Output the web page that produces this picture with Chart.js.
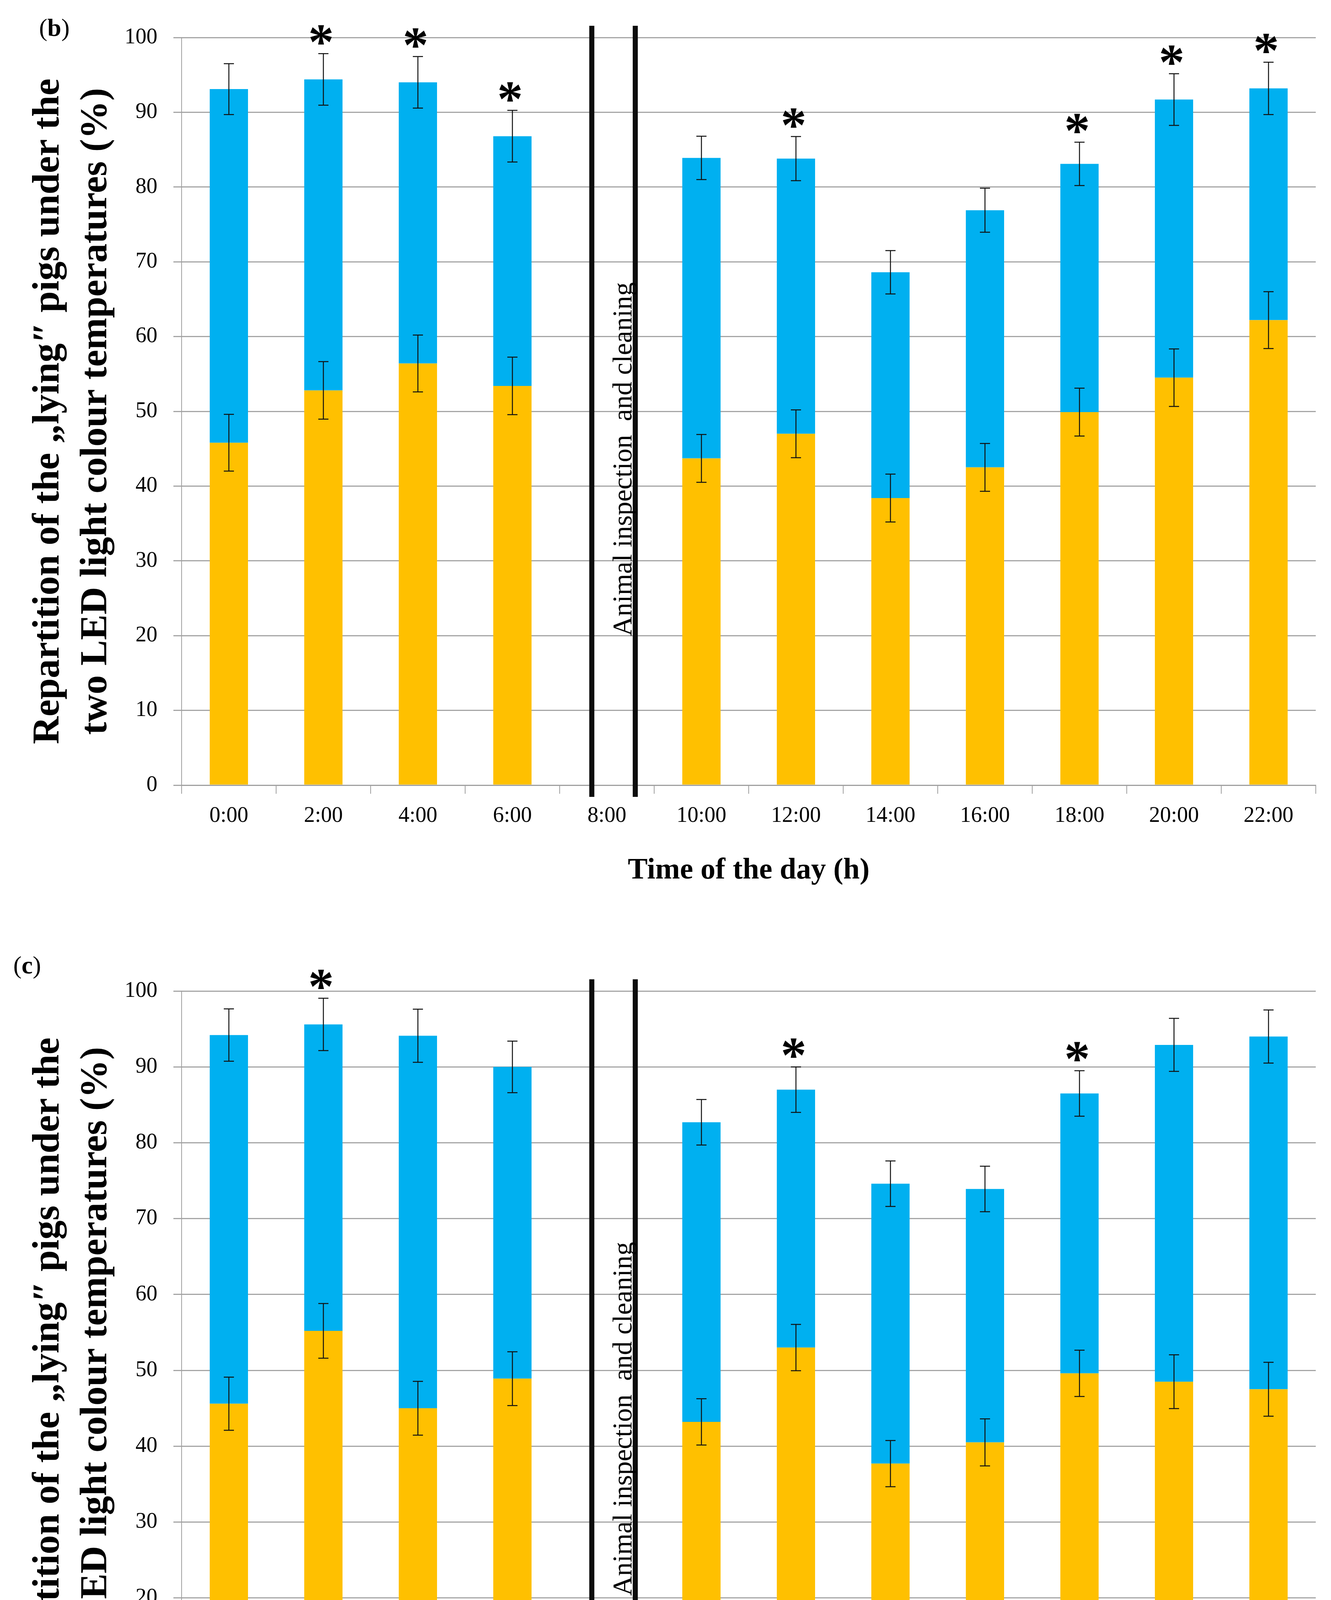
<!DOCTYPE html>
<html>
<head>
<meta charset="utf-8">
<script src="https://cdn.jsdelivr.net/npm/chart.js@4.4.1/dist/chart.umd.min.js"></script>
<style>
    html, body { margin: 0; padding: 0; background: #ffffff; overflow: hidden; }
    canvas { display: block; }
</style>
</head>
<body>
<canvas id="chartB" width="3408" height="2400"></canvas>
<canvas id="chartC" width="3408" height="2393"></canvas>
<script>
// Categories (8:00 = animal inspection and cleaning, no data)
const HOURS = ["0:00", "2:00", "4:00", "6:00", "8:00", "10:00", "12:00", "14:00", "16:00", "18:00", "20:00", "22:00"];

// Panel (b): orange part, blue part stacked on top, SE of each part, significance
const ORANGE_B     = [45.8, 52.8, 56.4, 53.4, null, 43.7, 47.0, 38.4, 42.5, 49.9, 54.5, 62.2];
const BLUE_B       = [47.3, 41.6, 37.6, 33.4, null, 40.2, 36.8, 30.2, 34.4, 33.2, 37.2, 31.0];
const ERR_ORANGE_B = [3.8, 3.85, 3.8, 3.85, null, 3.2, 3.2, 3.2, 3.2, 3.2, 3.85, 3.8];
const ERR_BLUE_B   = [3.4, 3.45, 3.45, 3.45, null, 2.9, 2.95, 2.9, 2.95, 2.9, 3.45, 3.5];
const STARS_B      = [0, 1, 1, 1, 0, 0, 1, 0, 0, 1, 1, 1];

// Panel (c)
const ORANGE_C     = [45.6, 55.2, 45.0, 48.9, null, 43.2, 53.0, 37.7, 40.5, 49.6, 48.5, 47.5];
const BLUE_C       = [48.6, 40.4, 49.1, 41.1, null, 39.5, 34.0, 36.9, 33.4, 36.9, 44.4, 46.5];
const ERR_ORANGE_C = [3.5, 3.6, 3.55, 3.55, null, 3.05, 3.05, 3.05, 3.1, 3.05, 3.55, 3.55];
const ERR_BLUE_C   = [3.45, 3.45, 3.5, 3.4, null, 3.0, 3.0, 3.0, 3.0, 3.0, 3.5, 3.5];
const STARS_C      = [0, 1, 0, 0, 0, 0, 1, 0, 0, 1, 0, 0];

const Y_TITLE = ["Repartition of the \u201Elying\u2033 pigs under the", "two LED light colour temperatures (%)"];
const X_TITLE = "Time of the day (h)";
const BREAK_TEXT = "Animal inspection  and cleaning";

// Colors
const COLOR_ORANGE = "#FFC000";
const COLOR_BLUE   = "#00B0F0";
const COLOR_GRID   = "#a6a6a6";
const COLOR_AXIS   = "#a0a0a0";
const COLOR_ERROR  = "#111111";
const COLOR_BREAK  = "#0d0d0d";

const FONT_SERIF = "'Liberation Serif', 'Times New Roman', serif";

// Draws one vertical error bar with caps
function drawErrorBar(ctx, cx, yScale, value, err) {
    var top = yScale.getPixelForValue(value + err);
    var bottom = yScale.getPixelForValue(value - err);
    ctx.beginPath();
    ctx.moveTo(cx, top); ctx.lineTo(cx, bottom);
    ctx.moveTo(cx - 13, top); ctx.lineTo(cx + 13, top);
    ctx.moveTo(cx - 13, bottom); ctx.lineTo(cx + 13, bottom);
    ctx.stroke();
}

// Error bars, asterisks, inspection break and panel letter
const panelExtras = {
    id: "panelExtras",
    afterDatasetsDraw(chart, args, opts) {
        const ctx = chart.ctx;
        const xs = chart.scales.x, ys = chart.scales.y;
        const area = chart.chartArea;
        ctx.save();

        ctx.strokeStyle = COLOR_ERROR;
        ctx.lineWidth = 2.5;
        ctx.font = "bold 132px " + FONT_SERIF;
        ctx.textAlign = "center";
        ctx.textBaseline = "alphabetic";
        const m = ctx.measureText("*");
        const starShift = (m.actualBoundingBoxAscent - m.actualBoundingBoxDescent) / 2;
        for (let i = 0; i < HOURS.length; i++) {
            if (opts.orange[i] == null) continue;
            const cx = xs.getPixelForValue(i);
            const total = opts.orange[i] + opts.blue[i];
            drawErrorBar(ctx, cx, ys, opts.orange[i], opts.errOrange[i]);
            drawErrorBar(ctx, cx, ys, total, opts.errBlue[i]);
            if (opts.stars[i]) {
                ctx.fillStyle = "#000";
                ctx.fillText("*", cx - 6, ys.getPixelForValue(total + opts.errBlue[i] + 2.5) + starShift);
            }
        }

        // two thick lines around 8:00
        ctx.fillStyle = COLOR_BREAK;
        [3.84, 4.30].forEach(function (idx) {
            const px = xs.getPixelForValue(idx);
            ctx.fillRect(px - 6.5, area.top - 30, 13, area.bottom - area.top + 60);
        });

        // rotated note between the lines
        ctx.save();
        ctx.translate(xs.getPixelForValue(4.26), ys.getPixelForValue(43.6));
        ctx.rotate(-Math.PI / 2);
        ctx.font = "70px " + FONT_SERIF;
        ctx.fillStyle = "#000";
        ctx.textAlign = "center";
        ctx.textBaseline = "alphabetic";
        ctx.fillText(BREAK_TEXT, 0, 0);
        ctx.restore();

        // panel letter "(b)" / "(c)"
        ctx.textBaseline = "middle";
        ctx.textAlign = "left";
        ctx.fillStyle = "#000";
        let lx = opts.letterX;
        ctx.font = "64px " + FONT_SERIF;
        ctx.fillText("(", lx, opts.letterY); lx += ctx.measureText("(").width;
        ctx.font = "bold 64px " + FONT_SERIF;
        ctx.fillText(opts.letter, lx, opts.letterY); lx += ctx.measureText(opts.letter).width;
        ctx.font = "64px " + FONT_SERIF;
        ctx.fillText(")", lx, opts.letterY);

        ctx.restore();
    }
};

// Creates one stacked bar panel
function createPanel(canvasId, letter, orange, blue, errOrange, errBlue, stars, geo) {
    return new Chart(canvasId, {
        type: "bar",
        data: {
            labels: HOURS,
            datasets: [{
                data: orange,
                backgroundColor: COLOR_ORANGE,
                borderWidth: 0,
                barPercentage: 0.405,
                categoryPercentage: 1
            },
            {
                data: blue,
                backgroundColor: COLOR_BLUE,
                borderWidth: 0,
                barPercentage: 0.405,
                categoryPercentage: 1
            }]
        },
        options: {
            responsive: false,
            animation: false,
            devicePixelRatio: 1,
            events: [],
            layout: {
                padding: { top: geo.top, right: 39, left: 0, bottom: 0 }
            },
            scales: {
                x: {
                    stacked: true,
                    grid: { offset: true, drawOnChartArea: false, drawTicks: true, tickLength: 22, color: COLOR_AXIS, lineWidth: 2 },
                    border: { display: true, color: COLOR_AXIS, width: 3 },
                    ticks: { font: { family: FONT_SERIF, size: 56 }, color: "#000", padding: 24, maxRotation: 0, autoSkip: false },
                    title: {
                        display: true,
                        text: X_TITLE,
                        color: "#000",
                        font: { family: FONT_SERIF, size: 76, weight: "bold" },
                        padding: { top: 0, bottom: geo.xTitlePad }
                    },
                    afterFit: function (scale) { scale.height = geo.xHeight; }
                },
                y: {
                    stacked: true,
                    min: 0,
                    max: 100,
                    ticks: { stepSize: 10, font: { family: FONT_SERIF, size: 56 }, color: "#000", padding: 41 },
                    grid: { color: COLOR_GRID, lineWidth: 3, drawTicks: true, tickLength: 21 },
                    border: { display: true, color: COLOR_AXIS, width: 2 },
                    title: {
                        display: true,
                        text: Y_TITLE,
                        color: "#000",
                        font: { family: FONT_SERIF, size: 98, weight: "bold", lineHeight: 1.25 },
                        padding: { top: 63, bottom: 0 }
                    },
                    afterFit: function (scale) { scale.width = 465; }
                }
            },
            plugins: {
                legend: { display: false },
                tooltip: { enabled: false },
                panelExtras: {
                    orange: orange, blue: blue, errOrange: errOrange, errBlue: errBlue, stars: stars,
                    letter: letter, letterX: geo.letterX, letterY: geo.letterY
                }
            }
        },
        plugins: [panelExtras]
    });
}

createPanel("chartB", "b", ORANGE_B, BLUE_B, ERR_ORANGE_B, ERR_BLUE_B, STARS_B,
    { top: 96, xHeight: 390, xTitlePad: 125, letterX: 100, letterY: 75 });
createPanel("chartC", "c", ORANGE_C, BLUE_C, ERR_ORANGE_C, ERR_BLUE_C, STARS_C,
    { top: 137, xHeight: 314, xTitlePad: 56, letterX: 34, letterY: 75 });
</script>
</body>
</html>
